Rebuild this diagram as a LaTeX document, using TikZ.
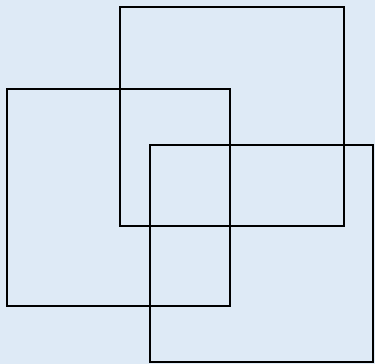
\documentclass[tikz,border=0pt]{standalone}
\usepackage{xcolor}
\usepackage{tikz}
\definecolor{paleblue}{HTML}{DEEAF6}

\begin{document}
\begin{tikzpicture}[
  x=1pt, y=-1pt,
  sq/.style={draw=black, line width=2pt}
]
% background and bounding box
\fill[paleblue] (0,0) rectangle (375,364);
\useasboundingbox (0,0) rectangle (375,364);
\draw[sq] (7,89) rectangle (230,306);
\draw[sq] (120,7) rectangle (344,226);
\draw[sq] (150,145) rectangle (373,362);
\end{tikzpicture}
\end{document}
